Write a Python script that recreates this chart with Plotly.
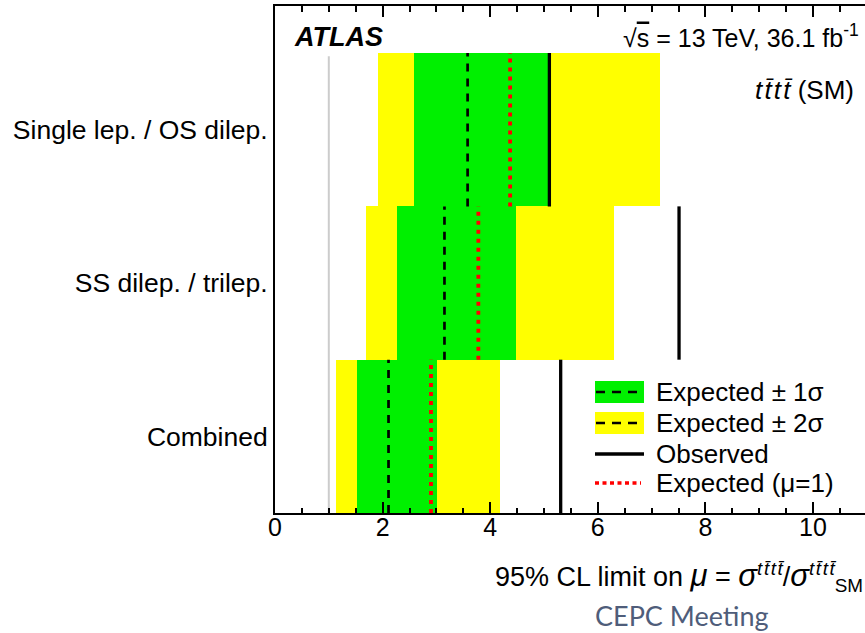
import plotly.graph_objects as go

# Channels, bottom to top
channels = ["Combined", "SS dilep. / trilep.", "Single lep. / OS dilep."]

# 95% CL upper limits on the signal strength mu
exp_median = [2.11, 3.15, 3.58]
exp_1s_lo = [1.52, 2.27, 2.58]
exp_1s_hi = [3.01, 4.48, 5.13]
exp_2s_lo = [1.14, 1.69, 1.92]
exp_2s_hi = [4.19, 6.31, 7.15]
exp_mu1 = [2.90, 3.78, 4.37]
observed = [5.31, 7.51, 5.10]
sm_ref = 1.0

x_ticks = [0, 2, 4, 6, 8, 10]

FONT = "Liberation Sans, Arial, Helvetica, sans-serif"
GREEN = "#00f000"
YELLOW = "#ffff00"
DASH = "8px,7px"
DOT = "4px,5px"

n = len(channels)
centers = [i + 0.5 for i in range(n)]

fig = go.Figure()

# +-2 sigma and +-1 sigma bands
fig.add_trace(go.Bar(
    y=centers, base=exp_2s_lo,
    x=[h - l for h, l in zip(exp_2s_hi, exp_2s_lo)],
    orientation="h", width=1.0, marker=dict(color=YELLOW, line=dict(width=0)),
    showlegend=False, hoverinfo="skip"))
fig.add_trace(go.Bar(
    y=centers, base=exp_1s_lo,
    x=[h - l for h, l in zip(exp_1s_hi, exp_1s_lo)],
    orientation="h", width=1.0, marker=dict(color=GREEN, line=dict(width=0)),
    showlegend=False, hoverinfo="skip"))


def segments(values):
    xs, ys = [], []
    for i, v in enumerate(values):
        xs += [v, v, None]
        ys += [i, i + 1, None]
    return xs, ys


# SM reference line at mu = 1
fig.add_trace(go.Scatter(x=[sm_ref, sm_ref], y=[0, n - 0.02], mode="lines",
                         line=dict(color="#cccccc", width=2),
                         showlegend=False, hoverinfo="skip"))

xs, ys = segments(exp_median)
fig.add_trace(go.Scatter(x=xs, y=ys, mode="lines",
                         line=dict(color="black", width=2.7, dash=DASH),
                         showlegend=False, hoverinfo="skip"))
xs, ys = segments(exp_mu1)
fig.add_trace(go.Scatter(x=xs, y=ys, mode="lines",
                         line=dict(color="red", width=3.8, dash=DOT),
                         showlegend=False, hoverinfo="skip"))
xs, ys = segments(observed)
fig.add_trace(go.Scatter(x=xs, y=ys, mode="lines",
                         line=dict(color="black", width=3.3),
                         showlegend=False, hoverinfo="skip"))

W, H = 865, 633
L, R, T, B = 275, 0, 6, 120
pw, ph = W - L - R, H - T - B


def px(xpix):
    return (xpix - L) / pw


def py(ypix):
    return (H - B - ypix) / ph


shapes = []
annotations = []

# Legend
legend_rows = [
    ("box", GREEN, "Expected ± 1σ", 392),
    ("box", YELLOW, "Expected ± 2σ", 423),
    ("solid", None, "Observed", 454),
    ("dot", None, "Expected (μ=1)", 483),
]
for kind, fill, label, yc in legend_rows:
    if kind == "box":
        shapes.append(dict(type="rect", xref="paper", yref="paper",
                           x0=px(595), x1=px(644), y0=py(yc + 11), y1=py(yc - 11),
                           fillcolor=fill, line=dict(width=0), layer="above"))
        shapes.append(dict(type="line", xref="paper", yref="paper",
                           x0=px(596), x1=px(643), y0=py(yc), y1=py(yc),
                           line=dict(color="black", width=2.7, dash="9px,7px"),
                           layer="above"))
    elif kind == "solid":
        shapes.append(dict(type="line", xref="paper", yref="paper",
                           x0=px(595), x1=px(644), y0=py(yc), y1=py(yc),
                           line=dict(color="black", width=3.3), layer="above"))
    else:
        shapes.append(dict(type="line", xref="paper", yref="paper",
                           x0=px(595), x1=px(641), y0=py(yc), y1=py(yc),
                           line=dict(color="red", width=3.5, dash="4px,3.5px"),
                           layer="above"))
    annotations.append(dict(xref="paper", yref="paper", x=px(654), y=py(yc),
                            xanchor="left", yanchor="middle", showarrow=False,
                            text=label, font=dict(family=FONT, size=26, color="black")))

# Labels inside the frame
annotations.append(dict(xref="paper", yref="paper", x=px(292), y=py(37),
                        xanchor="left", yanchor="middle", showarrow=False,
                        text="<b><i>ATLAS</i></b>",
                        font=dict(family=FONT, size=27, color="black")))
annotations.append(dict(xref="paper", yref="paper", x=px(861), y=py(36),
                        xanchor="right", yanchor="middle", showarrow=False,
                        text="√<span style=\"text-decoration:overline\">s</span> = 13 TeV, "
                             "36.1 fb<sup>-1</sup>",
                        font=dict(family=FONT, size=25, color="black")))
annotations.append(dict(xref="paper", yref="paper", x=px(856), y=py(90),
                        xanchor="right", yanchor="middle", showarrow=False,
                        text="<i>t\u200at\u0304\u200at\u200at\u0304</i> (SM)",
                        font=dict(family=FONT, size=26, color="black")))

# Axis title
SYM = "font-size:31px"
annotations.append(dict(xref="paper", yref="paper", x=1.0, y=py(577),
                        xanchor="right", yanchor="middle", showarrow=False,
                        text="95% CL limit on "
                             f"<span style=\"{SYM}\"><i>μ</i></span> = "
                             f"<span style=\"{SYM}\"><i>σ</i></span>"
                             "<sup><i>t\u200at\u0304\u200at\u200at\u0304</i></sup>/"
                             f"<span style=\"{SYM}\"><i>σ</i></span>"
                             "<sup><i>t\u200at\u0304\u200at\u200at\u0304</i></sup>"
                             "<sub>SM</sub>",
                        font=dict(family=FONT, size=27, color="black")))

# Footer
annotations.append(dict(xref="paper", yref="paper", x=px(682), y=py(615),
                        xanchor="center", yanchor="middle", showarrow=False,
                        text="CEPC Meeting",
                        font=dict(family="Lato, Open Sans, sans-serif", size=27,
                                  color="#4f5d7a")))

fig.update_layout(
    width=W, height=H,
    margin=dict(l=L, r=R, t=T, b=B, pad=0),
    paper_bgcolor="white", plot_bgcolor="white",
    barmode="overlay", bargap=0,
    shapes=shapes, annotations=annotations,
    showlegend=False,
    xaxis=dict(
        range=[0, (W - L - R) / 53.8], showgrid=False, zeroline=False,
        showline=True, linecolor="black", linewidth=2, mirror="ticks",
        ticks="inside", ticklen=11, tickwidth=1.5, tickcolor="black",
        tickvals=x_ticks, ticktext=[str(v) for v in x_ticks],
        ticklabelstandoff=-9,
        tickfont=dict(family=FONT, size=25, color="black"),
        minor=dict(dtick=0.5, tick0=0, ticks="inside", ticklen=5.5,
                   tickwidth=1.5, tickcolor="black", showgrid=False),
    ),
    yaxis=dict(
        range=[0, 3.307], showgrid=False, zeroline=False,
        showline=True, linecolor="black", linewidth=2, mirror=False,
        ticks="", tickvals=centers, ticktext=channels,
        ticklabelstandoff=0,
        tickfont=dict(family=FONT, size=26.5, color="black"),
    ),
)

fig.write_html("out.html")
